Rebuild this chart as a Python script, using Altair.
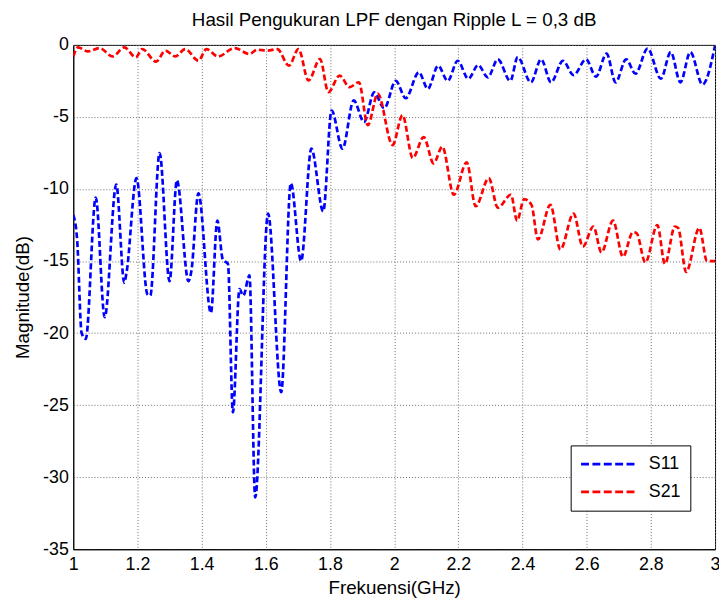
import altair as alt
import pandas as pd

# S11 (blue): frequency (GHz) and magnitude (dB)
s11_f = [1.000, 1.012, 1.026, 1.039, 1.070, 1.098, 1.134, 1.159, 1.166, 1.197,
         1.231, 1.240, 1.269, 1.300, 1.323, 1.359, 1.368, 1.390, 1.429, 1.449,
         1.466, 1.482, 1.4975, 1.518, 1.530, 1.549, 1.567, 1.607, 1.648, 1.678,
         1.710, 1.742, 1.779, 1.805, 1.839, 1.874, 1.906, 1.938, 1.969, 2.005,
         2.036, 2.077, 2.105, 2.137, 2.167, 2.198, 2.231, 2.262, 2.292, 2.323,
         2.362, 2.385, 2.426, 2.458, 2.489, 2.526, 2.559, 2.598, 2.629, 2.662,
         2.690, 2.723, 2.752, 2.790, 2.831, 2.862, 2.892, 2.923, 2.961, 3.000]
s11_db = [-11.8, -13.5, -20.0, -20.4, -10.6, -18.9, -9.7, -16.5, -15.8, -9.25,
          -17.3, -17.4, -7.5, -16.4, -9.4, -16.4, -15.7, -10.3, -18.6, -12.2,
          -14.9, -15.2, -25.5, -16.95, -17.4, -16.0, -31.4, -11.7, -24.1, -9.6,
          -15.0, -7.2, -11.55, -4.55, -7.2, -3.85, -5.35, -3.3, -4.4, -2.5,
          -3.7, -1.9, -3.05, -1.45, -2.5, -1.1, -2.35, -1.4, -2.25, -1.0,
          -2.5, -0.85, -2.6, -1.0, -2.6, -1.1, -2.1, -1.0, -2.2, -0.6,
          -2.6, -1.0, -2.0, -0.25, -2.35, -0.5, -2.6, -0.5, -2.75, -0.05]

# S21 (red)
s21_f = [1.000, 1.015, 1.046, 1.082, 1.123, 1.159, 1.195, 1.215, 1.258, 1.287,
         1.318, 1.349, 1.390, 1.415, 1.451, 1.503, 1.549, 1.574, 1.605, 1.636,
         1.672, 1.702, 1.733, 1.769, 1.795, 1.830, 1.861, 1.890, 1.918, 1.949,
         1.995, 2.026, 2.058, 2.092, 2.123, 2.150, 2.186, 2.226, 2.254, 2.295,
         2.323, 2.364, 2.383, 2.405, 2.428, 2.448, 2.487, 2.518, 2.559, 2.588,
         2.621, 2.646, 2.682, 2.713, 2.744, 2.755, 2.783, 2.820, 2.844, 2.875,
         2.885, 2.910, 2.951, 2.975, 3.000]
s21_db = [-0.8, -0.17, -0.45, -0.22, -0.8, -0.17, -0.86, -0.29, -1.16, -0.4,
          -0.8, -0.29, -1.09, -0.29, -0.8, -0.22, -0.63, -0.33, -0.4, -0.29,
          -1.44, -0.29, -2.47, -0.98, -3.28, -2.13, -2.93, -2.59, -5.57, -3.39,
          -6.95, -4.88, -7.85, -6.4, -8.22, -7.07, -10.4, -8.15, -11.2, -9.25,
          -11.3, -10.4, -12.2, -10.7, -11.1, -13.5, -11.1, -14.2, -11.7, -14.0,
          -12.6, -14.4, -12.2, -14.7, -13.0, -13.05, -15.1, -12.5, -15.2, -12.6,
          -12.7, -15.76, -12.7, -15.0, -15.0]

series_names = ["S11", "S21"]
series_colors = ["#0000ff", "#ff0000"]
x_ticks = [1, 1.2, 1.4, 1.6, 1.8, 2, 2.2, 2.4, 2.6, 2.8, 3]
y_ticks = [0, -5, -10, -15, -20, -25, -30, -35]

df = pd.concat([
    pd.DataFrame({"f": s11_f, "db": s11_db, "series": "S11"}),
    pd.DataFrame({"f": s21_f, "db": s21_db, "series": "S21"}),
])

FONT = "Liberation Sans"

chart = alt.Chart(df).mark_line(
    strokeWidth=2.7, strokeDash=[6, 3], interpolate="monotone", clip=True
).encode(
    x=alt.X("f:Q",
            scale=alt.Scale(domain=[1, 3], nice=False, zero=False),
            axis=alt.Axis(values=x_ticks, title="Frekuensi(GHz)",
                          labelExpr="'' + datum.value", labelPadding=7,
                          titlePadding=5)),
    y=alt.Y("db:Q",
            scale=alt.Scale(domain=[-35, 0], nice=False, zero=False),
            axis=alt.Axis(values=y_ticks, title="Magnitude(dB)",
                          labelExpr="'' + datum.value", labelPadding=5,
                          titlePadding=10)),
    color=alt.Color("series:N",
                    scale=alt.Scale(domain=series_names, range=series_colors),
                    legend=alt.Legend(title=None, orient="none",
                                      legendX=503, legendY=405,
                                      symbolType="stroke", symbolSize=3249,
                                      symbolStrokeWidth=2.7,
                                      symbolDash=[8, 3.5], clipHeight=20,
                                      rowPadding=8, labelOffset=10,
                                      labelFontSize=18, labelFont=FONT,
                                      labelColor="black",
                                      strokeColor="black", fillColor="white",
                                      padding=9, cornerRadius=0)),
).properties(
    width=649, height=510,
    background="white",
    title=alt.TitleParams("Hasil Pengukuran LPF dengan Ripple L = 0,3 dB",
                          font=FONT, fontSize=19, fontWeight="normal",
                          color="black", offset=6, anchor="middle"),
    autosize=alt.AutoSizeParams(type="none"),
    padding={"left": 66, "top": 34, "right": 4, "bottom": 46},
).configure_view(
    stroke="black", strokeWidth=1
).configure_axis(
    labelFont=FONT, labelFontSize=18, labelColor="black",
    titleFont=FONT, titleFontSize=19, titleFontWeight="normal", titleColor="black",
    domainColor="black", domainWidth=1, ticks=False,
    grid=True, gridColor="#6f6f6f", gridDash=[1, 2], gridWidth=1, gridOpacity=1,
    labelFlush=False, labelOverlap=False,
)

chart.save("out.html", embed_options={"renderer": "svg", "actions": False})
